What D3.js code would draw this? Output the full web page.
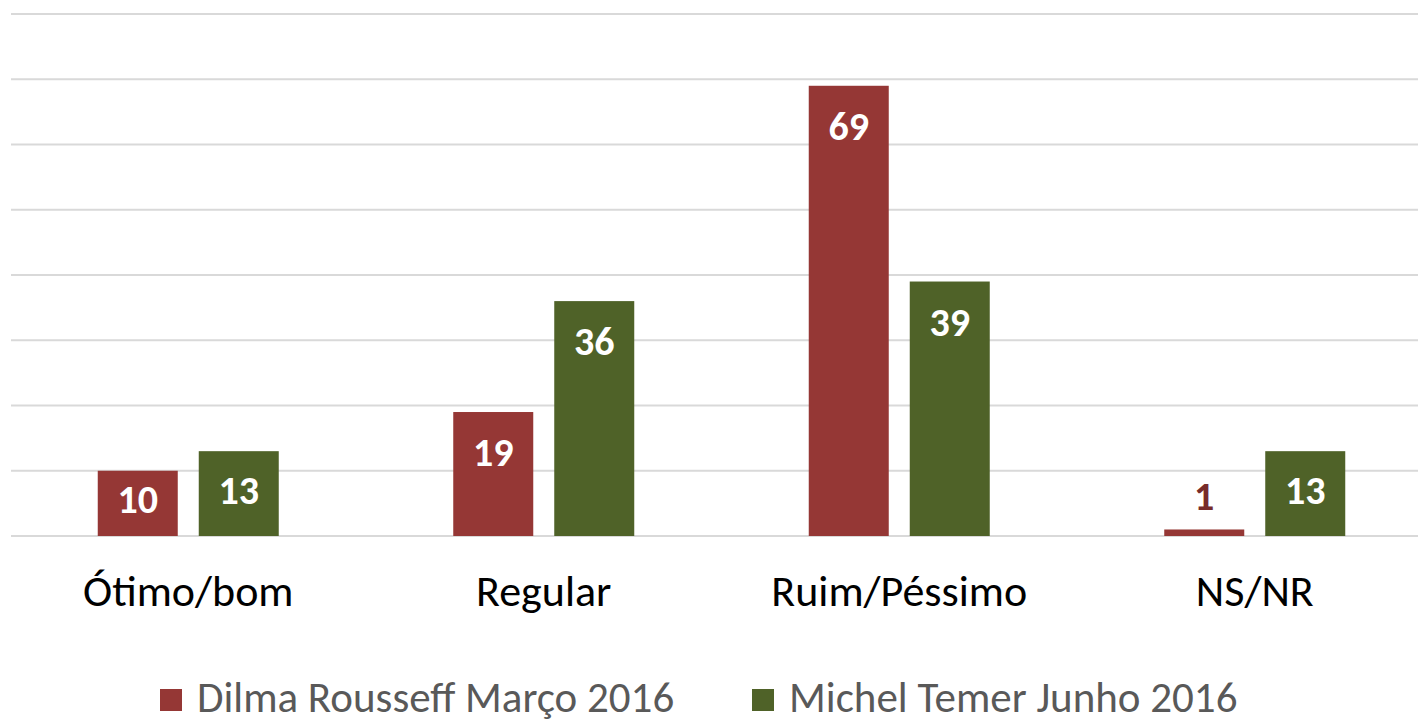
<!DOCTYPE html>
<html>
<head>
<meta charset="utf-8">
<script src="https://cdn.jsdelivr.net/npm/d3@7"></script>
<style>
  html, body { margin: 0; padding: 0; background: #fff; }
  svg { display: block; font-family: Carlito, Lato, "Open Sans", sans-serif; }
</style>
</head>
<body>
<svg width="1418" height="720"></svg>
<script>
// approval ratings, % (Dilma vs Temer)
const categories = ['Ótimo/bom', 'Regular', 'Ruim/Péssimo', 'NS/NR'];
const seriesNames = ['Dilma Rousseff Março 2016', 'Michel Temer Junho 2016'];
const dilma = [10, 19, 69, 1];
const temer = [13, 36, 39, 13];
const yTicks = [0, 10, 20, 30, 40, 50, 60, 70, 80];

const colors = ['#953735', '#4F6228'];
const W = 1418, H = 720;
const svg = d3.select('svg');

const x = d3.scaleBand().domain(categories).range([10.5, 1432.5]);
const xs = d3.scaleBand().domain(seriesNames).range([0, 181]).paddingInner(21 / 101);
const y = d3.scaleLinear().domain([0, 80]).range([536, 14]);

// gridlines
svg.append('g').selectAll('line').data(yTicks).join('line')
  .attr('x1', 11).attr('x2', W)
  .attr('y1', d => y(d)).attr('y2', d => y(d))
  .attr('stroke', '#d9d9d9').attr('stroke-width', 2);

const rows = categories.map((c, i) => ({ c, vals: [dilma[i], temer[i]] }));
const groupOffset = (x.bandwidth() - 181) / 2;

const g = svg.append('g').selectAll('g').data(rows).join('g')
  .attr('transform', d => `translate(${x(d.c) + groupOffset},0)`);

const cells = g.selectAll('g').data(d => d.vals.map((v, k) => ({ v, k }))).join('g');

cells.append('rect')
  .attr('x', d => xs(seriesNames[d.k]))
  .attr('width', xs.bandwidth())
  .attr('y', d => y(d.v))
  .attr('height', d => y(0) - y(d.v))
  .attr('fill', d => colors[d.k]);

cells.append('text')
  .attr('x', d => xs(seriesNames[d.k]) + xs.bandwidth() / 2)
  .attr('y', d => {
    const top = y(d.v), mid = (top + y(0)) / 2;
    if (y(0) - top < 30) return top - 33;
    return Math.min(top + 40, mid - 4);
  })
  .attr('dy', '0.35em')
  .attr('text-anchor', 'middle')
  .attr('font-size', 40).attr('font-weight', 'bold')
  .attr('fill', d => (y(0) - y(d.v) < 30) ? '#772c2a' : '#fff')
  .text(d => d.v);

// category labels
svg.append('g').selectAll('text').data(categories).join('text')
  .attr('x', d => x(d) + x.bandwidth() / 2)
  .attr('y', 606)
  .attr('text-anchor', 'middle')
  .attr('font-size', 44).attr('fill', '#000')
  .text(d => d);

// legend
const legX = [160, 752];
const leg = svg.append('g').selectAll('g').data(seriesNames).join('g')
  .attr('transform', (d, i) => `translate(${legX[i]},0)`);
leg.append('rect').attr('x', 0).attr('y', 689).attr('width', 22).attr('height', 22)
  .attr('fill', (d, i) => colors[i]);
leg.append('text').attr('x', 37).attr('y', 712)
  .attr('font-size', 43).attr('fill', '#595959')
  .text(d => d);
</script>
</body>
</html>
